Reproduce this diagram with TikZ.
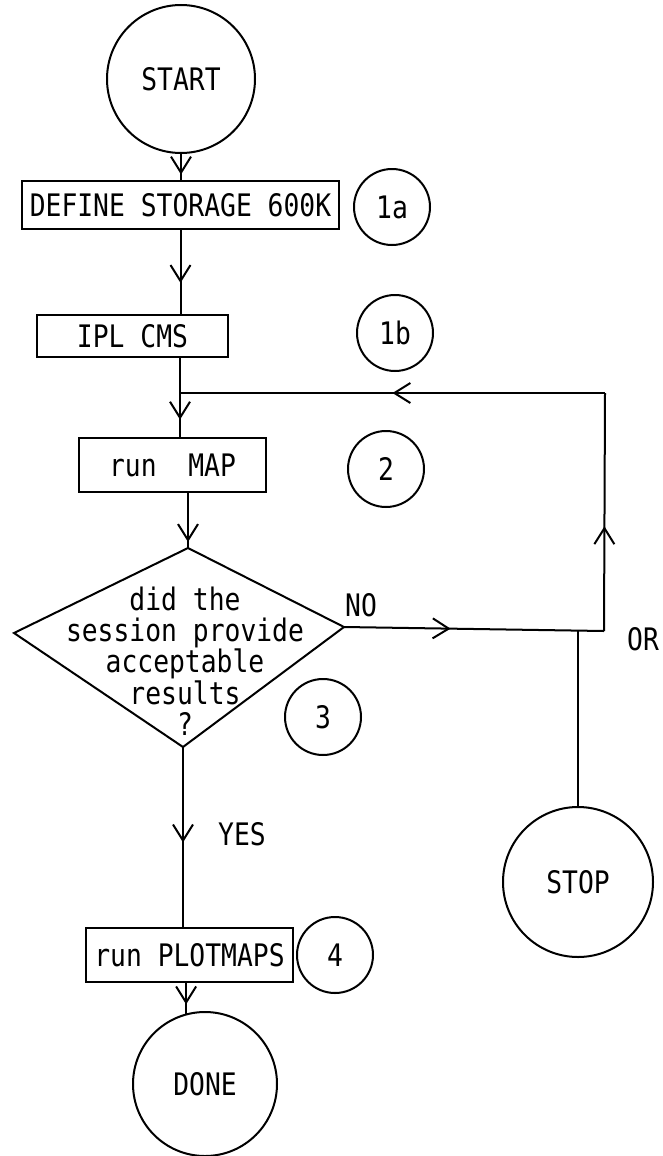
\documentclass[tikz,border=0pt]{standalone}
\usepackage{fontspec}
\setmainfont{DejaVu Sans Mono}[FakeStretch=0.85]
\usetikzlibrary{arrows.meta, decorations.markings}

\begin{document}
\begin{tikzpicture}[
      x=1pt, y=-1pt,
      line width=2pt,
      font=\fontsize{31}{31.3}\selectfont,
      term/.style={draw, circle, inner sep=0pt},
      stepbox/.style={draw, inner sep=0pt},
      tag/.style={draw, circle, minimum size=76pt, inner sep=0pt},
      flow/.style={postaction={decorate}, decoration={markings,
          mark=at position #1 with {\arrow{Straight Barb[length=16pt, width=20pt]}}}}
    ]
    \useasboundingbox (0,0) rectangle (662,1156);

    % main column
    \node[term, minimum size=148pt] (start) at (181,79) {START};
    \node[stepbox, minimum width=317pt, minimum height=48pt] (define) at (180.5,205) {DEFINE STORAGE 600K};
    \node[tag] (t1a) at (392,207) {1a};
    \node[stepbox, minimum width=191pt, minimum height=42pt] (ipl) at (132.5,336) {IPL CMS};
    \node[tag] (t1b) at (395,333) {1b};
    \node[stepbox, minimum width=187pt, minimum height=54pt] (map) at (172.5,465) {run\ \ MAP};
    \node[tag] (t2) at (386,469) {2};

    % decision, drawn by hand from its corners
    \coordinate (dtop) at (188,548);
    \coordinate (dright) at (344,627);
    \coordinate (dbot) at (183,747);
    \coordinate (dleft) at (14,633);
    \draw (dtop) -- (dright) -- (dbot) -- (dleft) -- cycle;
    \node[align=center] (ask) at (185,661) {did the\\session provide\\acceptable\\results\\?};
    \node[tag] (t3) at (323,717) {3};

    \node[stepbox, minimum width=207pt, minimum height=54pt] (plot) at (189.5,955) {run PLOTMAPS};
    \node[tag] (t4) at (335,955) {4};
    \node[term, minimum size=144pt] (done) at (205,1084) {DONE};
    \node[term, minimum size=150pt] (stop) at (578,882) {STOP};

    \node (no) at (361,605) {NO};
    \node (yes) at (242,834) {YES};
    \node (or) at (643,639) {OR};

    % loop back points
    \coordinate (join) at (180,393);
    \coordinate (corner) at (605,393);
    \coordinate (rise) at (604,631);

    \draw[flow=0.79] (start.south) -- (start.south |- define.north);
    \draw[flow=0.63] (define.south) -- (define.south |- ipl.north);
    \draw[flow=0.78] (ipl.south -| join) -- (map.north -| join);
    \draw[flow=0.89] (map.south -| dtop) -- (dtop);
    \draw[flow=0.41] (dright) -- (rise);
    \draw[flow=0.44] (rise) -- (corner);
    \draw[flow=0.5] (corner) -- (join);
    \draw (stop.north) -- (stop.north |- rise);
    \draw[flow=0.53] (dbot) -- (dbot |- plot.north);
    \draw[flow=0.7] (plot.south -| done.105) -- (done.105);
  \end{tikzpicture}
\end{document}
